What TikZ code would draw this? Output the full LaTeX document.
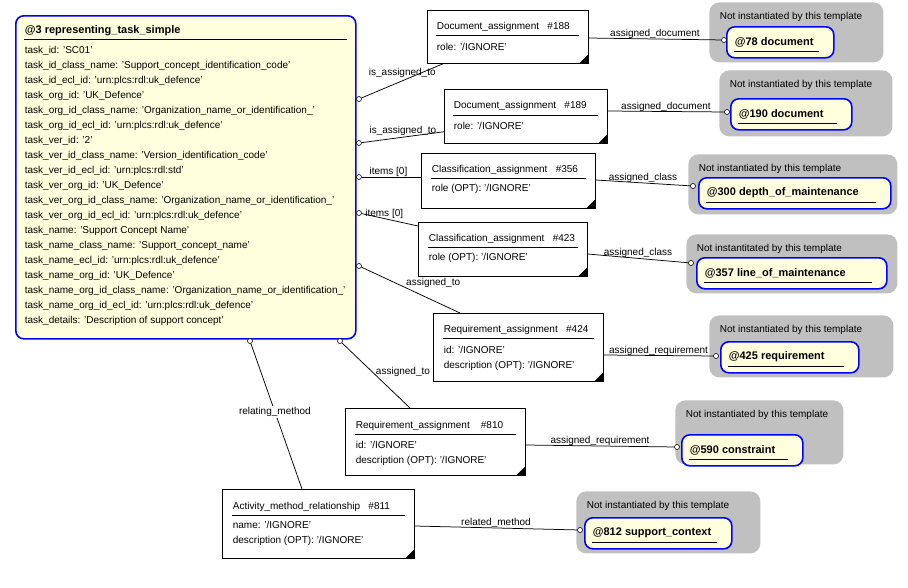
\documentclass[tikz,border=0pt]{standalone}
\usepackage{fontspec}
\setmainfont{Liberation Sans}
\definecolor{tplblue}{RGB}{0,0,255}
\definecolor{tplfill}{RGB}{255,255,221}
\definecolor{grp}{RGB}{192,192,192}
\tikzset{every picture/.style={line width=0.75pt}}
\tikzset{
  box/.style={draw=black, fill=white, anchor=north west, inner sep=0pt},
  tpl/.style={draw=tplblue, fill=tplfill, line width=1.6pt, rounded corners=8pt, anchor=north west, inner sep=0pt},
  grpbox/.style={fill=grp, rounded corners=10pt, anchor=north west, inner sep=0pt},
  txt/.style={anchor=west, inner sep=0.5pt, font=\fontsize{10}{12}\selectfont},
  bold/.style={anchor=west, inner sep=0.5pt, font=\fontsize{11}{12}\selectfont\bfseries},
  dot/.style={circle, draw=black, fill=white, inner sep=0pt, minimum size=5pt, line width=0.6pt},
  lbl/.style={inner sep=1pt, font=\fontsize{10}{12}\selectfont},
}
\newcommand{\corner}[1]{\fill (#1.south east) -- ++(-10,0) -- ++(10,-10) -- cycle;}
\begin{document}
\begin{tikzpicture}[x=1pt,y=1pt,yscale=-1,xscale=1]
\useasboundingbox (0,0) rectangle (908,587);

%main template
\node[tpl, minimum width=340, minimum height=323] (main) at (15,15) {};
\node[bold] (mt) at (24,31) {@3 representing\_task\_simple};
\draw (24,39) -- (347,39);
\foreach \t [count=\i from 0] in {task\_id: 'SC01',
  task\_id\_class\_name: 'Support\_concept\_identification\_code',
  task\_id\_ecl\_id: 'urn:plcs:rdl:uk\_defence',
  task\_org\_id: 'UK\_Defence',
  task\_org\_id\_class\_name: 'Organization\_name\_or\_identification\_',
  task\_org\_id\_ecl\_id: 'urn:plcs:rdl:uk\_defence',
  task\_ver\_id: '2',
  task\_ver\_id\_class\_name: 'Version\_identification\_code',
  task\_ver\_id\_ecl\_id: 'urn:plcs:rdl:std',
  task\_ver\_org\_id: 'UK\_Defence',
  task\_ver\_org\_id\_class\_name: 'Organization\_name\_or\_identification\_',
  task\_ver\_org\_id\_ecl\_id: 'urn:plcs:rdl:uk\_defence',
  task\_name: 'Support Concept Name',
  task\_name\_class\_name: 'Support\_concept\_name',
  task\_name\_ecl\_id: 'urn:plcs:rdl:uk\_defence',
  task\_name\_org\_id: 'UK\_Defence',
  task\_name\_org\_id\_class\_name: 'Organization\_name\_or\_identification\_',
  task\_name\_org\_id\_ecl\_id: 'urn:plcs:rdl:uk\_defence',
  task\_details: 'Description of support concept'}
  \node[txt] at (24,51+15*\i) {\t};

%entity boxes
\node[box, minimum width=161, minimum height=53] (da188) at (427,10) {};
\node[txt] at (436,27) {Document\_assignment\ \ \ \#188};
\draw (436,35) -- (579,35);
\node[txt] at (436,47) {role: '/IGNORE'};
\corner{da188}

\node[box, minimum width=163, minimum height=54] (da189) at (444,89) {};
\node[txt] at (453,106) {Document\_assignment\ \ \ \#189};
\draw (453,115) -- (598,115);
\node[txt] at (453,126) {role: '/IGNORE'};
\corner{da189}

\node[box, minimum width=174, minimum height=55] (ca356) at (421,153) {};
\node[txt] at (431,170) {Classification\_assignment\ \ \ \#356};
\draw (431,178) -- (586,178);
\node[txt] at (431,189) {role (OPT): '/IGNORE'};
\corner{ca356}

\node[box, minimum width=169, minimum height=54] (ca423) at (418,222) {};
\node[txt] at (428,239) {Classification\_assignment\ \ \ \#423};
\draw (428,247) -- (578,247);
\node[txt] at (428,258) {role (OPT): '/IGNORE'};
\corner{ca423}

\node[box, minimum width=170, minimum height=68] (ra424) at (433,313) {};
\node[txt] at (443,330) {Requirement\_assignment\ \ \ \#424};
\draw (443,338) -- (594,338);
\node[txt] at (443,350) {id: '/IGNORE'};
\node[txt] at (443,366) {description (OPT): '/IGNORE'};
\corner{ra424}

\node[box, minimum width=180, minimum height=67] (ra810) at (345,408) {};
\node[txt] at (355,426) {Requirement\_assignment\ \ \ \ \#810};
\draw (355,434) -- (516,434);
\node[txt] at (355,445) {id: '/IGNORE'};
\node[txt] at (355,461) {description (OPT): '/IGNORE'};
\corner{ra810}

\node[box, minimum width=192, minimum height=69] (amr811) at (222,489) {};
\node[txt] at (232,507) {Activity\_method\_relationship\ \ \ \#811};
\draw (232,515) -- (405,515);
\node[txt] at (232,525) {name: '/IGNORE'};
\node[txt] at (232,541) {description (OPT): '/IGNORE'};
\corner{amr811}

%not instantiated groups
\foreach \n/\gx/\gy/\gw/\gh/\cap/\ix/\iy/\iw/\lab in {
  g1/709/2/174/60/{Not instantiated by this template}/726/26/107/{@78 document},
  g2/719/70/173/66/{Not instantiated by this template}/730/98/121/{@190 document},
  g3/688/154/209/60/{Not instantiated by this template}/698/177/192/{@300 depth\_of\_maintenance},
  g4/686/234/211/59/{Not instantitated by this template}/696/257/190/{@357 line\_of\_maintenance},
  g5/709/315/184/62/{Not instantiated by this template}/720/341/138/{@425 requirement},
  g6/675/400/168/64/{Not instantiated by this template}/681/434/121/{@590 constraint},
  g7/576/491/184/62/{Not instantiated by this template}/584/517/147/{@812 support\_context}}
{
  \node[grpbox, minimum width=\gw, minimum height=\gh] (\n) at (\gx,\gy) {};
  \node[txt] at (\gx+10,\gy+15) {\cap};
  \node[tpl, minimum width=\iw, minimum height=31] (\n i) at (\ix,\iy) {};
  \node[bold] (\n t) at (\ix+8,\iy+16) {\lab};
  \draw (\ix+8,\iy+25) -- (\ix+\iw-14,\iy+25);
}

%connectors
\node[dot] (o1) at (359,99) {};
\node[dot] (o2) at (359,143) {};
\node[dot] (o3) at (359,177) {};
\node[dot] (o4) at (359,213) {};
\node[dot] (o5) at (359,266) {};
\node[dot] (o6) at (340,341) {};
\node[dot] (o7) at (250,341) {};
\draw (o1) -- node[lbl, pos=0.5, above=2pt] {is\_assigned\_to} ([xshift=16]da188.south west);
\draw (o2) -- node[lbl, pos=0.5, above] {is\_assigned\_to} ([yshift=-12]da189.south west);
\draw (o3) -- node[lbl, pos=0.45, above=-1pt] {items [0]} (ca356.west |- o3);
\draw (o4) -- node[lbl, pos=0.4, above=-1pt] {items [0]} ([yshift=4]ca423.north west);
\draw (o5) -- node[lbl, pos=0.45, above right=-1pt] {assigned\_to} ([xshift=27]ra424.north west);
\draw (o6) -- node[lbl, pos=0.45, right=2pt] {assigned\_to} ([xshift=65]ra810.north west);
\draw (o7) -- node[lbl, pos=0.47, fill=white] {relating\_method} ([xshift=80]amr811.north west);

\node[dot] (d1) at (724,40) {};
\node[dot] (d2) at (727,112) {};
\node[dot] (d3) at (693,186) {};
\node[dot] (d4) at (691,263) {};
\node[dot] (d5) at (716,356) {};
\node[dot] (d6) at (677,447) {};
\node[dot] (d7) at (580,530) {};
\draw (da188.east |- 0,38) -- node[lbl, above=-1pt] {assigned\_document} (d1);
\draw (da189.east |- 0,111) -- node[lbl, above=-1pt] {assigned\_document} (d2);
\draw (ca356.east |- 0,180) -- node[lbl, above=-1pt] {assigned\_class} (d3);
\draw (ca423.east |- 0,254) -- node[lbl, above=-1pt] {assigned\_class} (d4);
\draw (ra424.east |- 0,355) -- node[lbl, above=-1pt] {assigned\_requirement} (d5);
\draw (ra810.east |- 0,445) -- node[lbl, above=-1pt] {assigned\_requirement} (d6);
\draw (amr811.east |- 0,526) -- node[lbl, above=-1pt] {related\_method} (d7);
\end{tikzpicture}
\end{document}
